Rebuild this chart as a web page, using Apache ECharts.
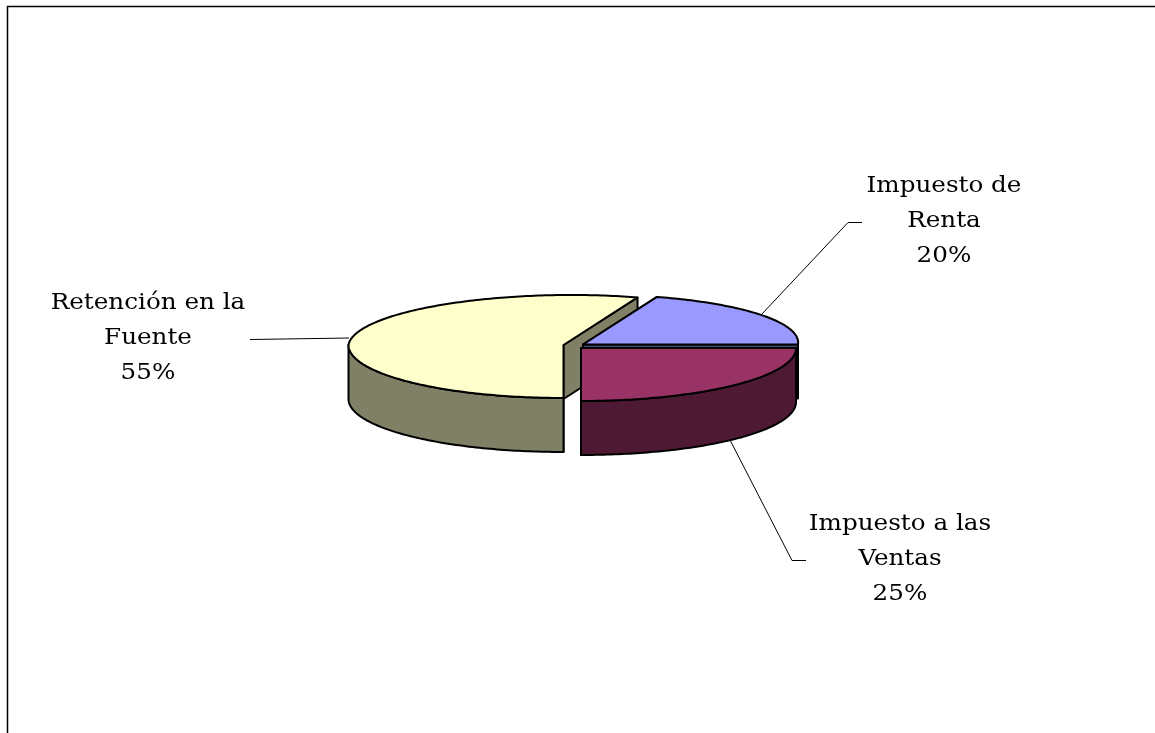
<!DOCTYPE html>
<html>
<head>
<meta charset="utf-8">
<title>Retenciones</title>
<style>
	html, body { margin: 0; padding: 0; background: #fff; overflow: hidden; }
	#main { width: 1155px; height: 733px; }
</style>
<script src="https://cdn.jsdelivr.net/npm/echarts@6/dist/echarts.min.js"></script>
</head>
<body>
<div id="main"></div>
<script>
// datos
var categories = ['Retención en la\nFuente', 'Impuesto de\nRenta', 'Impuesto a las\nVentas'];
var shares = [55, 20, 25];

// colores: tapa y pared de cada porción
var topColors = ['#FFFFCC', '#9999FF', '#993366'];
var wallColors = ['#808066', '#4D4D80', '#4D1933'];

// vértice de cada porción (ya separada), posición de etiqueta y línea guía
var apexes = [[563.5, 345], [583, 344.5], [581, 348]];
var labelAt = [[148, 338], [944, 221], [900, 559]];
var leaders = [
	[[250, 339.5], [349, 338]],
	[[761, 315], [848, 222.5], [862, 222.5]],
	[[730, 440], [792, 560.5], [806, 560.5]]
];

var radiusX = 215, radiusBack = 50, radiusFront = 53, depth = 54, backSkew = 8;
var firstAngle = -90;

var total = shares.reduce(function (a, b) { return a + b; }, 0);

function edgePoint(apex, deg) {
	var r = deg * Math.PI / 180, s = Math.sin(r);
	return [
		apex[0] + radiusX * Math.cos(r) + (s > 0 ? backSkew * s : 0),
		apex[1] - (s > 0 ? radiusBack : radiusFront) * s
	];
}

function down(p) {
	return [p[0], p[1] + depth];
}

function face(points, color) {
	return {
		type: 'polygon',
		shape: { points: points },
		style: { fill: color, stroke: '#000', lineWidth: 2, lineJoin: 'round' }
	};
}

function renderSlice(params, api) {
	var i = api.value(0), before = 0;
	for (var k = 0; k < i; k++) {
		before += shares[k];
	}
	var from = firstAngle - before / total * 360;
	var to = from - api.value(1) / total * 360;
	var apex = apexes[i];
	var arc = [], front = [];
	for (var d = from; d >= to; d -= 1) {
		var p = edgePoint(apex, d);
		arc.push(p);
		if (Math.sin(d * Math.PI / 180) <= 0.001) {
			front.push(p);
		}
	}
	arc.push(edgePoint(apex, to));

	var children = [{
		type: 'polyline',
		shape: { points: leaders[i] },
		style: { fill: null, stroke: '#000', lineWidth: 1 }
	}];

	// caras de corte
	var a = edgePoint(apex, from), b = edgePoint(apex, to);
	children.push(face([apex, a, down(a), down(apex)], wallColors[i]));
	children.push(face([apex, b, down(b), down(apex)], wallColors[i]));
	// pared exterior
	if (front.length > 1) {
		var wall = front.concat(front.slice().reverse().map(down));
		children.push(face(wall, wallColors[i]));
	}
	// tapa
	children.push(face([apex].concat(arc), topColors[i]));

	// el texto del original es algo más ancho que la fuente
	children.push({
		type: 'text',
		x: labelAt[i][0],
		y: labelAt[i][1],
		scaleX: 1.12,
		style: {
			text: categories[i] + '\n' + Math.round(api.value(1) / total * 100) + '%',
			font: '22px "DejaVu Serif"',
			fill: '#000',
			align: 'center',
			verticalAlign: 'middle',
			lineHeight: 35
		}
	});
	return { type: 'group', children: children };
}

var chartObj = echarts.init(document.getElementById('main'));
var option = {
	animation: false,
	backgroundColor: '#fff',
	// marco
	graphic: [
		{ type: 'line', shape: { x1: 7, y1: 6.5, x2: 1155, y2: 6.5 }, style: { stroke: '#000', lineWidth: 1.5 } },
		{ type: 'line', shape: { x1: 7.5, y1: 6, x2: 7.5, y2: 733 }, style: { stroke: '#000', lineWidth: 1.5 } }
	],
	series: [{
		type: 'custom',
		coordinateSystem: 'none',
		data: shares.map(function (v, i) { return [i, v]; }),
		renderItem: renderSlice
	}]
};
chartObj.setOption(option);
</script>
</body>
</html>
